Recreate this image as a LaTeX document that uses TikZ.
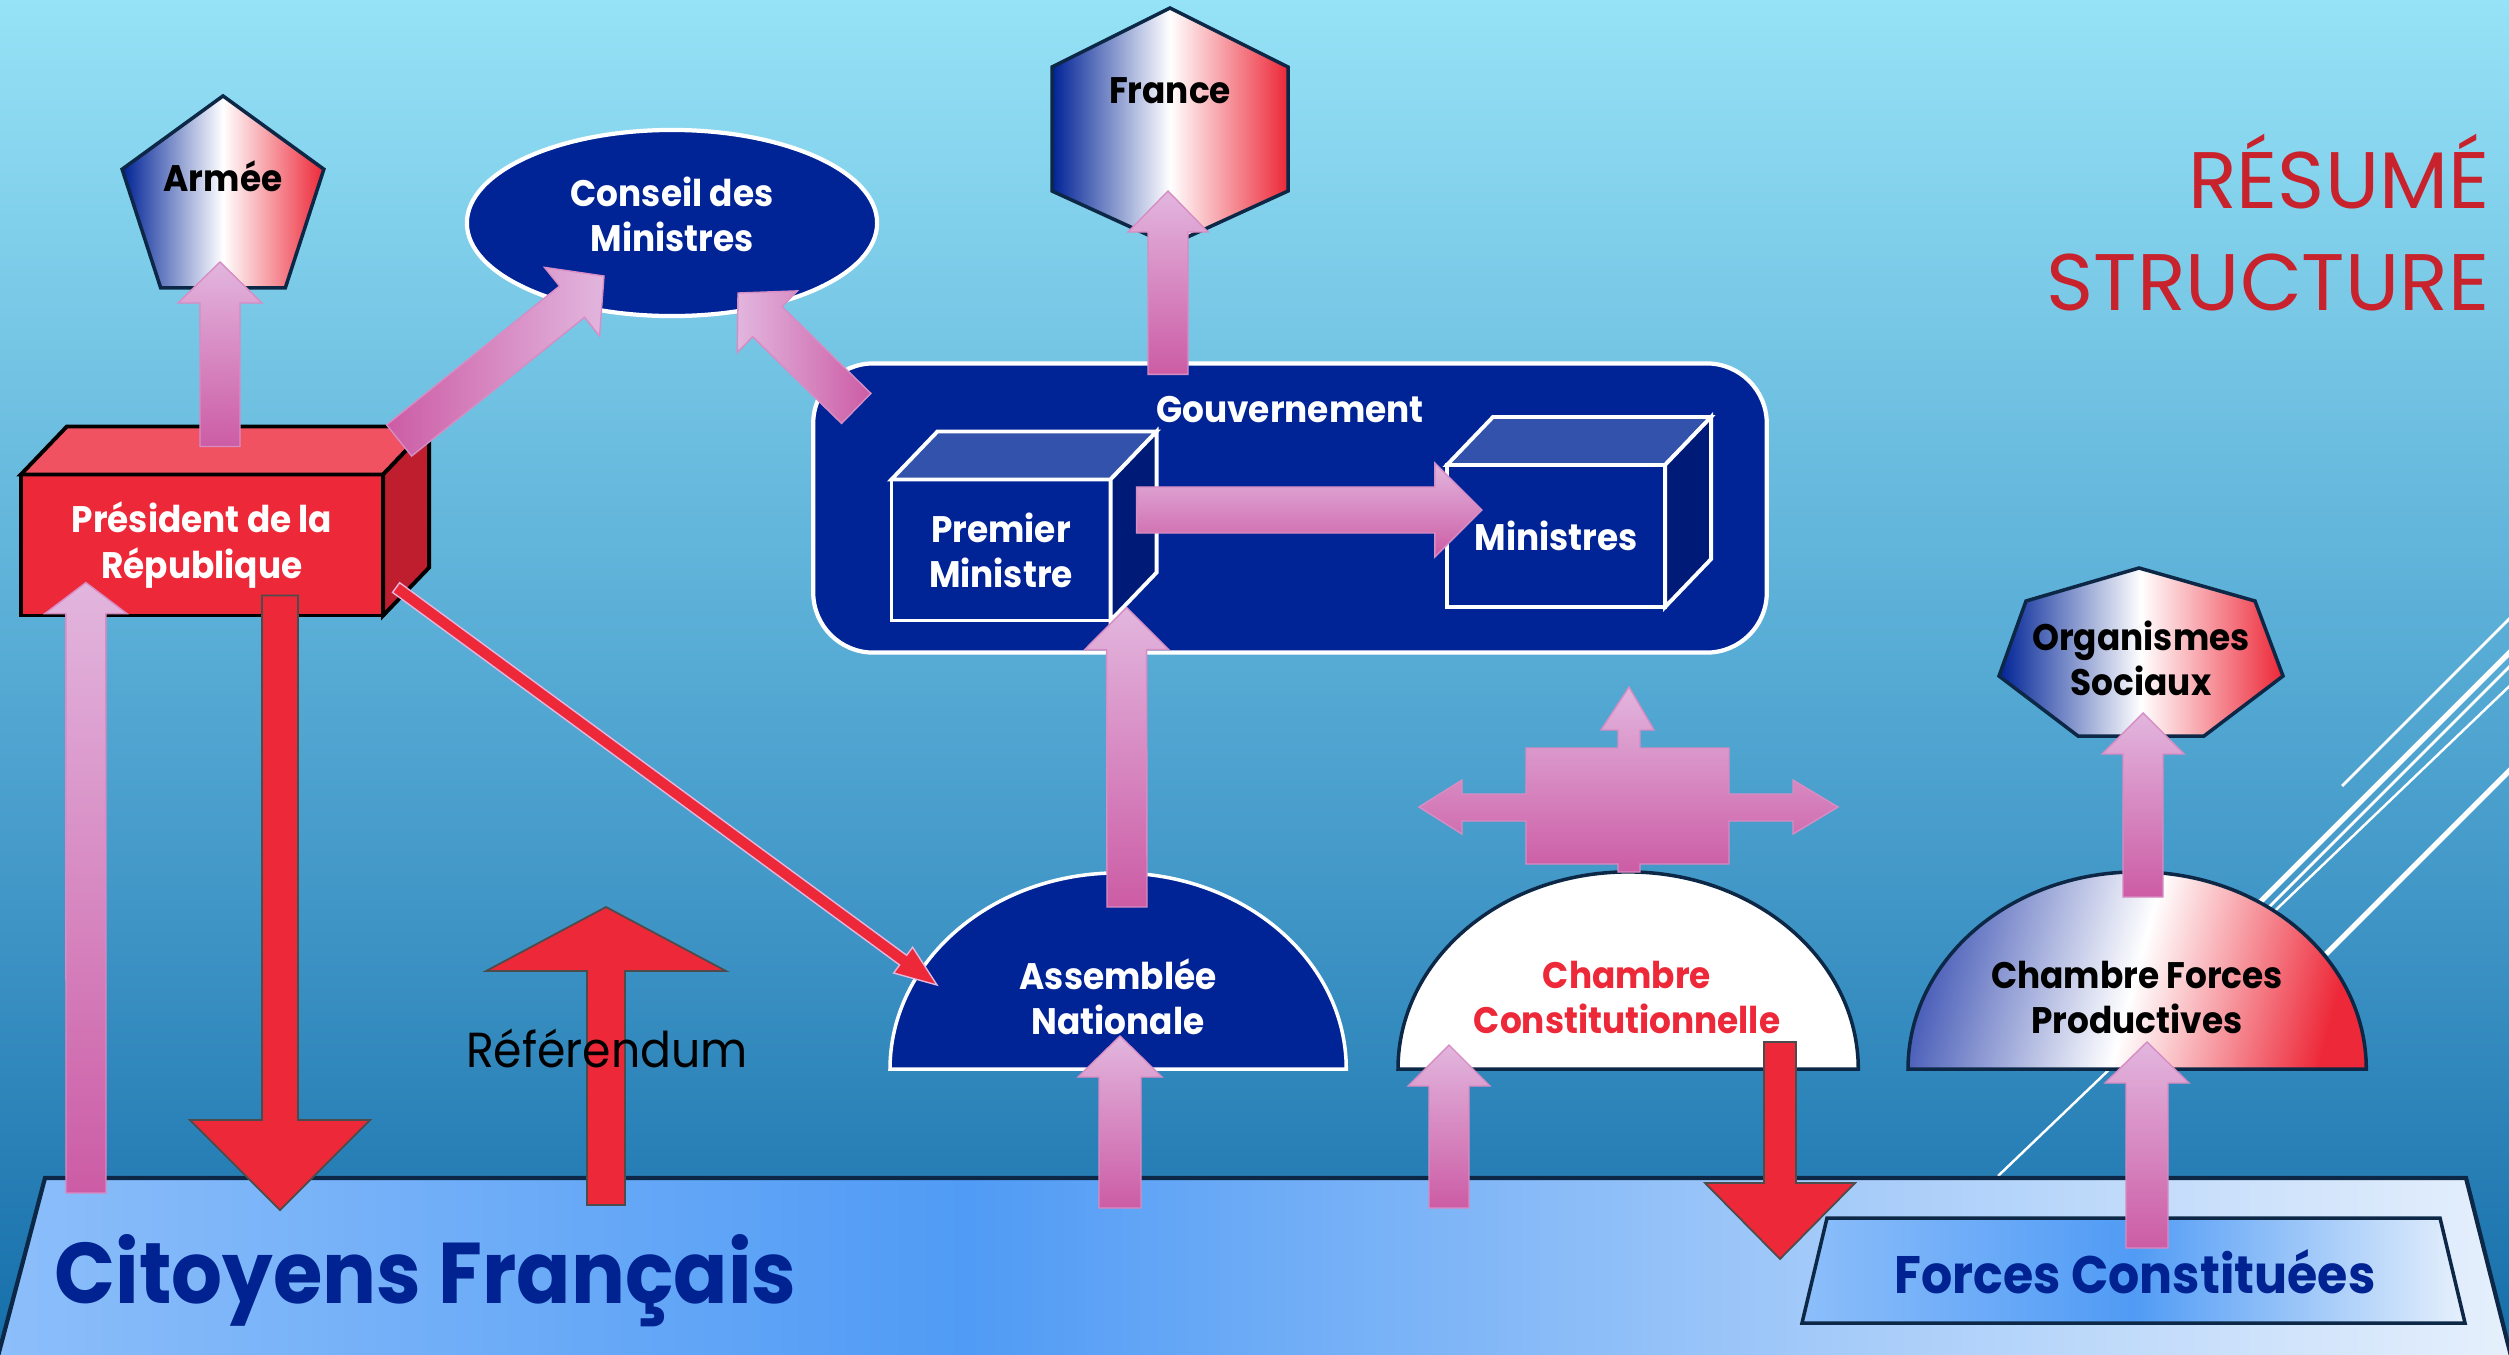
\documentclass[tikz,border=0pt]{standalone}
\usepackage{fontspec}
\setmainfont{Poppins}
\newfontfamily\narrowfont[FakeStretch=0.93]{Poppins}
\usetikzlibrary{calc,shapes.geometric}

\definecolor{bgtop}{RGB}{150,226,246}
\definecolor{bgmid}{RGB}{85,170,212}
\definecolor{bgbot}{RGB}{22,110,170}
\definecolor{navy}{RGB}{0,35,150}
\definecolor{navyL}{RGB}{50,82,172}
\definecolor{navyD}{RGB}{0,26,120}
\definecolor{rouge}{RGB}{237,40,56}
\definecolor{rougeL}{RGB}{240,82,97}
\definecolor{rougeD}{RGB}{190,30,45}
\definecolor{titre}{RGB}{200,35,45}
\definecolor{pinkL}{RGB}{226,182,222}
\definecolor{pinkD}{RGB}{204,92,165}
\definecolor{pinkE}{RGB}{215,140,195}
\definecolor{ciel}{RGB}{140,190,250}
\definecolor{cielM}{RGB}{80,155,245}
\definecolor{cielR}{RGB}{230,240,252}
\definecolor{bord}{RGB}{12,40,70}
\definecolor{cfpB}{RGB}{75,95,185}
\definecolor{bleuT}{RGB}{0,35,145}

\tikzset{
  lbl/.style={font=\narrowfont\bfseries\fontsize{10.5}{12.8}\selectfont, align=center, inner sep=0pt},
  lblw/.style={lbl, text=white},
  lblk/.style={lbl, text=black},
  tricolor/.style={left color=navy, right color=rouge, middle color=white},
  edge/.style={draw=bord, line width=1pt},
  pinkup/.style={top color=pinkL, bottom color=pinkD, draw=pinkE, line width=0.4pt},
  pinkside/.style={draw=pinkE, line width=0.4pt},
  redarrow/.style={fill=rouge, draw=black!70, line width=0.5pt},
  thinred/.style={fill=rouge, draw=pinkL, line width=0.4pt},
  cubefront/.style={rectangle, outer sep=0pt, line width=1.1pt},
}

% block arrow: [style]{tail}{tip}{half shaft}{half head}{head length}
\newcommand{\blockarrow}[6][]{%
  \coordinate (ba-h) at ($(#3)!#6!(#2)$);
  \path[#1] ($(#2)!#4!90:(#3)$) -- ($(ba-h)!#4!90:(#3)$) -- ($(ba-h)!#5!90:(#3)$) -- (#3)
    -- ($(ba-h)!#5!-90:(#3)$) -- ($(ba-h)!#4!-90:(#3)$) -- ($(#2)!#4!-90:(#3)$) -- cycle;}

% top and side faces of a box node
\newcommand{\cubefaces}[4][]{%
  \filldraw[#1, fill=#3] (#2.north west) -- ++(46,-48) -- ([shift={(46,-48)}]#2.north east) -- (#2.north east) -- cycle;
  \filldraw[#1, fill=#4] (#2.north east) -- ++(46,-48) -- ([shift={(46,-48)}]#2.south east) -- (#2.south east) -- cycle;}

\begin{document}
\begin{tikzpicture}[x=0.01cm, y=-0.01cm]
  \useasboundingbox (0,0) rectangle (2509,1354);
  \shade[top color=bgtop, bottom color=bgbot, middle color=bgmid] (0,0) rectangle (2509,1354);

  \draw[white, line width=0.8pt] (2342,786) -- (2520,608);
  \draw[white, line width=1.5pt] (2260,902) -- (2520,642);
  \draw[white, line width=0.8pt] (2267,909) -- (2520,656);
  \draw[white, line width=0.7pt] (1998,1176) -- (2520,676);
  \draw[white, line width=1.5pt] (2326,954) -- (2520,760);

  % citoyens
  \coordinate (band) at (0,1178);
  \shade[left color=ciel, right color=cielM] (45,1178) -- (967,1178) -- (967,1360) -- (-3,1360) -- cycle;
  \shade[left color=cielM, right color=cielR] (967,1178) -- (2466,1178) -- (2512,1360) -- (967,1360) -- cycle;
  \draw[bord, line width=1.2pt] (-3,1360) -- (45,1178) -- (2466,1178) -- (2512,1360);
  \shadedraw[left color=ciel, right color=cielR, middle color=cielM, edge] (1827,1218) -- (2440,1218) -- (2465,1323) -- (1802,1323) -- cycle;

  % chambres
  \filldraw[fill=navy, draw=white, line width=1pt] (890,1069) arc[start angle=180, end angle=0, x radius=2.28cm, y radius=1.96cm] -- cycle;
  \filldraw[fill=white, edge] (1398,1069) arc[start angle=180, end angle=0, x radius=2.30cm, y radius=1.97cm] -- cycle;
  \shadedraw[left color=cfpB, right color=rouge, middle color=white, shading angle=75, edge] (1908,1069) arc[start angle=180, end angle=0, x radius=2.29cm, y radius=1.97cm] -- cycle;

  \node[regular polygon, regular polygon sides=5, minimum size=2.12cm, inner sep=0pt, outer sep=0pt, tricolor, edge,
    label={[lblk, yshift=0.26cm]center:Armée}] (armee) at (223,202) {};
  \node[ellipse, minimum width=4.1cm, minimum height=1.86cm, fill=navy, draw=white, line width=1.2pt,
    label={[lblw, yshift=0.09cm]center:Conseil des\\Ministres}] (conseil) at (672,223) {};

  \shadedraw[tricolor, edge] (1170,8) -- (1288,67) -- (1288,191) -- (1170,245) -- (1052,191) -- (1052,67) -- cycle;
  \node[lblk] (france) at (1170,91) {France};

  \node[rectangle, rounded corners=0.6cm, minimum width=9.53cm, minimum height=2.89cm, fill=navy, draw=white, line width=1.2pt, outer sep=0pt,
    label={[lblw, anchor=north, yshift=-0.32cm]north:Gouvernement}] (gouv) at (1290,508) {};
  \node[cubefront, fill=navy, draw=white, lblw, minimum width=2.19cm, minimum height=1.41cm] (pm) at (1001,550) {Premier\\Ministre};
  \cubefaces[draw=white, line width=1.1pt]{pm}{navyL}{navyD}
  \node[cubefront, fill=navy, draw=white, lblw, minimum width=2.18cm, minimum height=1.42cm] (min) at (1556,536) {Ministres};
  \cubefaces[draw=white, line width=1.1pt]{min}{navyL}{navyD}

  \node[cubefront, fill=rouge, draw=black, lblw, minimum width=3.62cm, minimum height=1.41cm] (pres) at (202,545) {Président de la\\République};
  \cubefaces[draw=black, line width=1.1pt]{pres}{rougeL}{rougeD}

  \shadedraw[tricolor, edge] (2139,568) -- (2255,601) -- (2283,676) -- (2204,736) -- (2078,736) -- (1999,676) -- (2026,601) -- cycle;
  \node[lblk] (os) at (2141,658) {Organismes\\Sociaux};

  \node[lblw] (an) at (1118,997) {Assemblée\\Nationale};
  \node[lbl, text=rouge] (cc) at (1627,997) {Chambre\\Constitutionnelle};
  \node[lblk] (cfp) at (2137,997) {Chambre Forces\\Productives};

  \node[font=\narrowfont\bfseries\fontsize{15}{18}\selectfont, text=bleuT, inner sep=0pt, anchor=base] (fc) at (2135,1293) {Forces Constituées};
  \node[font=\narrowfont\bfseries\fontsize{24.5}{28}\selectfont, text=bleuT, inner sep=0pt, anchor=base west] (cit) at (54,1303) {Citoyens Français};

  % fleches
  \blockarrow[pinkup]{[shift={(18,-28)}]pres.north}{[shift={(-3,60)}]armee.center}{0.20cm}{0.42cm}{0.41cm}
  \blockarrow[pinkside, left color=pinkD, right color=pinkL]{[shift={(16,-34)}]pres.north east}{[shift={(-68,53)}]conseil.center}{0.20cm}{0.44cm}{0.41cm}
  \blockarrow[pinkside, left color=pinkL, right color=pinkD]{[shift={(43,45)}]gouv.north west}{[shift={(66,70)}]conseil.center}{0.21cm}{0.43cm}{0.41cm}
  \blockarrow[pinkup]{[shift={(-122,11)}]gouv.north}{[shift={(-2,100)}]france.center}{0.20cm}{0.40cm}{0.41cm}
  \blockarrow[pinkup]{[shift={(26,-40)}]pm.east}{[shift={(35,-26)}]min.west}{0.23cm}{0.47cm}{0.47cm}
  \blockarrow[pinkup]{[shift={(9,-90)}]an.center}{[shift={(16,-13)}]pm.south east}{0.20cm}{0.42cm}{0.42cm}
  \blockarrow[pinkup]{[shift={(1120,30)}]band}{[shift={(2,39)}]an.center}{0.21cm}{0.42cm}{0.41cm}
  \blockarrow[pinkup]{[shift={(86,15)}]band}{[shift={(65,-33)}]pres.south west}{0.20cm}{0.41cm}{0.31cm}
  \blockarrow[pinkup]{[shift={(1449,30)}]band}{[shift={(-178,48)}]cc.center}{0.20cm}{0.41cm}{0.41cm}
  \blockarrow[pinkup]{[shift={(12,-45)}]fc.base}{[shift={(10,45)}]cfp.center}{0.21cm}{0.42cm}{0.41cm}
  \blockarrow[pinkup]{[shift={(6,-100)}]cfp.center}{[shift={(2,55)}]os.center}{0.20cm}{0.41cm}{0.41cm}

  \begin{scope}[shift={(cc.center)}]
    \shadedraw[pinkup] (-101,-249) -- (-9,-249) -- (-9,-267) -- (-26,-267) -- (2,-310) -- (27,-267) -- (13,-267) -- (13,-249)
      -- (102,-249) -- (102,-203) -- (166,-203) -- (166,-217) -- (211,-190) -- (166,-163) -- (166,-176) -- (102,-176)
      -- (102,-133) -- (13,-133) -- (13,-125) -- (-9,-125) -- (-9,-133) -- (-101,-133) -- (-101,-176) -- (-165,-176)
      -- (-165,-163) -- (-208,-190) -- (-165,-217) -- (-165,-203) -- (-101,-203) -- cycle;
  \end{scope}

  \blockarrow[redarrow]{[shift={(78,-20)}]pres.south}{[shift={(280,32)}]band}{0.18cm}{0.90cm}{0.90cm}
  \blockarrow[redarrow]{[shift={(606,27)}]band}{[shift={(606,-271)}]band}{0.19cm}{1.20cm}{0.64cm}
  \blockarrow[redarrow]{[shift={(153,45)}]cc.center}{[shift={(1780,81)}]band}{0.16cm}{0.75cm}{0.76cm}
  \blockarrow[thinred]{[shift={(13,-28)}]pres.south east}{[shift={(-181,-12)}]an.center}{0.06cm}{0.16cm}{0.42cm}
  \node[font=\narrowfont\fontsize{14}{16}\selectfont, inner sep=0pt] (ref) at (607,1048) {Référendum};

  \node[font=\fontsize{22.8}{28}\selectfont, text=titre, inner sep=0pt, anchor=base east] (titre1) at (2490,208) {RÉSUMÉ};
  \node[font=\fontsize{22.8}{28}\selectfont, text=titre, inner sep=0pt, anchor=base east] (titre2) at (2490,310) {STRUCTURE};
\end{tikzpicture}
\end{document}
